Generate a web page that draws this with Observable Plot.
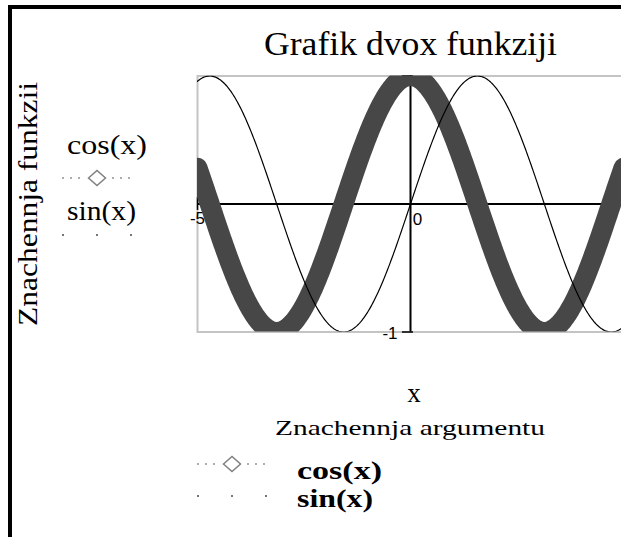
<!DOCTYPE html>
<html>
<head>
<meta charset="utf-8">
<script src="https://cdn.jsdelivr.net/npm/d3@7"></script>
<script src="https://cdn.jsdelivr.net/npm/@observablehq/plot@0.6"></script>
<style>
  html, body { margin: 0; padding: 0; background: #fff; overflow: hidden; }
  #chart svg { display: block; max-width: none; }
</style>
</head>
<body>
<div id="chart"></div>
<script>
// Argument range and value range of the plot
const xDomain = [-5, 5];
const yDomain = [-1, 1];

// Sample points of the argument x
const xSamples = d3.range(-5, 5.0001, 0.02);

// The two plotted functions
const seriesNames = ["cos(x)", "sin(x)"];
const seriesFns = [Math.cos, Math.sin];

// Axis tick values and their labels
const xTickValues = [-5, 0];
const xTickLabels = ["-5", "0"];
const yTickValues = [-1, 1];
const yTickLabels = ["-1", "1"];

// Texts
const titleText = "Grafik dvox funkziji";
const yTitle = "Znachennja funkzii";
const xName = "x";
const xTitle = "Znachennja argumentu";

const cosData = xSamples.map(x => ({x, y: seriesFns[0](x)}));
const sinData = xSamples.map(x => ({x, y: seriesFns[1](x)}));

const serif = "'Liberation Serif', 'Times New Roman', serif";
const sans = "'Liberation Sans', Arial, sans-serif";
const tickFont = {fontSize: 17, fontFamily: sans, fill: "#000"};

const chart = Plot.plot({
  width: 621,
  height: 537,
  marginLeft: 197,
  marginRight: -2,
  marginTop: 75.5,
  marginBottom: 205.5,
  x: {domain: xDomain, axis: null},
  y: {domain: yDomain, axis: null},
  style: {background: "#fff", overflow: "hidden"},
  marks: [
    Plot.frame({stroke: "#c4c4c4", strokeWidth: 2}),
    // tick labels (partly covered by the thick curve)
    Plot.text([xTickValues[0]], {x: d => d, y: 0, text: () => xTickLabels[0], dy: 15, ...tickFont}),
    Plot.text([xTickValues[1]], {x: d => d, y: 0, text: () => xTickLabels[1], dx: 7, dy: 16, ...tickFont}),
    Plot.text([yTickValues[0]], {x: 0, y: d => d, text: () => yTickLabels[0], textAnchor: "end", dx: -13, dy: 2, ...tickFont}),
    Plot.text([yTickValues[1]], {x: 0, y: d => d, text: () => yTickLabels[1], textAnchor: "end", dx: -13, dy: 9, ...tickFont}),
    // axes through the origin
    Plot.ruleY([0], {x1: xDomain[0], x2: xDomain[1], stroke: "#000", strokeWidth: 2}),
    Plot.ruleX([0], {y1: yDomain[0], y2: yDomain[1], stroke: "#000", strokeWidth: 2}),
    Plot.ruleX([xDomain[0]], {y1: -0.05, y2: 0.05, stroke: "#000", strokeWidth: 1.5}),
    Plot.ruleY(yTickValues, {x1: -0.19, x2: 0.07, stroke: "#000", strokeWidth: 1.5}),
    // cos(x): heavy grey trace
    Plot.line(cosData, {x: "x", y: "y", stroke: "#474747", strokeWidth: 20, strokeLinejoin: "round", clip: true}),
    // sin(x): thin black trace
    Plot.line(sinData, {x: "x", y: "y", stroke: "#000", strokeWidth: 1.2, clip: true})
  ]
});

document.getElementById("chart").appendChild(chart);

// Titles, legends and outer border drawn on top of the plot
const svg = d3.select(chart);
const g = svg.append("g").attr("class", "annotations");

g.append("path")
  .attr("d", "M10,537 L10,7 L623,7")
  .attr("fill", "none")
  .attr("stroke", "#000")
  .attr("stroke-width", 4)
  .attr("stroke-linejoin", "miter");

function label(text, opts) {
  const t = g.append("text")
    .attr("x", opts.x)
    .attr("y", opts.y)
    .attr("font-family", serif)
    .attr("font-size", opts.size)
    .attr("font-weight", opts.weight || "normal")
    .attr("text-anchor", opts.anchor || "start")
    .attr("fill", "#000")
    .text(text);
  if (opts.length) t.attr("textLength", opts.length).attr("lengthAdjust", "spacingAndGlyphs");
  if (opts.rotate) t.attr("transform", `rotate(${opts.rotate},${opts.x},${opts.y})`);
  return t;
}

label(titleText, {x: 264, y: 55, size: 33, length: 293});
label(yTitle, {x: 37, y: 204, size: 28, anchor: "middle", rotate: -90, length: 244});
label(xName, {x: 414, y: 402, size: 27, anchor: "middle"});
label(xTitle, {x: 410, y: 435, size: 22, anchor: "middle", length: 270});

// legend swatches: dotted line with a diamond for cos, sparse dots for sin
function cosSwatch(cx, cy) {
  [-34, -26, -18, 16, 24, 32].forEach(d => {
    g.append("rect").attr("x", cx + d - 0.8).attr("y", cy - 0.8).attr("width", 1.6).attr("height", 1.6).attr("fill", "#808080");
  });
  g.append("path")
    .attr("d", `M${cx - 8.5},${cy} L${cx},${cy - 7.5} L${cx + 8.5},${cy} L${cx},${cy + 7.5} Z`)
    .attr("fill", "none").attr("stroke", "#808080").attr("stroke-width", 1.5);
}
function sinSwatch(cx, cy) {
  [-34, 0, 34].forEach(d => {
    g.append("rect").attr("x", cx + d - 0.9).attr("y", cy - 0.9).attr("width", 1.8).attr("height", 1.8).attr("fill", "#555");
  });
}

// legend at the left of the plot
label(seriesNames[0], {x: 67, y: 154, size: 28, length: 80});
cosSwatch(97, 178);
label(seriesNames[1], {x: 67, y: 220, size: 28, length: 69});
sinSwatch(97, 235);

// legend below the plot
cosSwatch(232, 464);
label(seriesNames[0], {x: 297, y: 479, size: 26, weight: "bold", length: 85});
sinSwatch(232, 496);
label(seriesNames[1], {x: 297, y: 507, size: 26, weight: "bold", length: 76});
</script>
</body>
</html>
